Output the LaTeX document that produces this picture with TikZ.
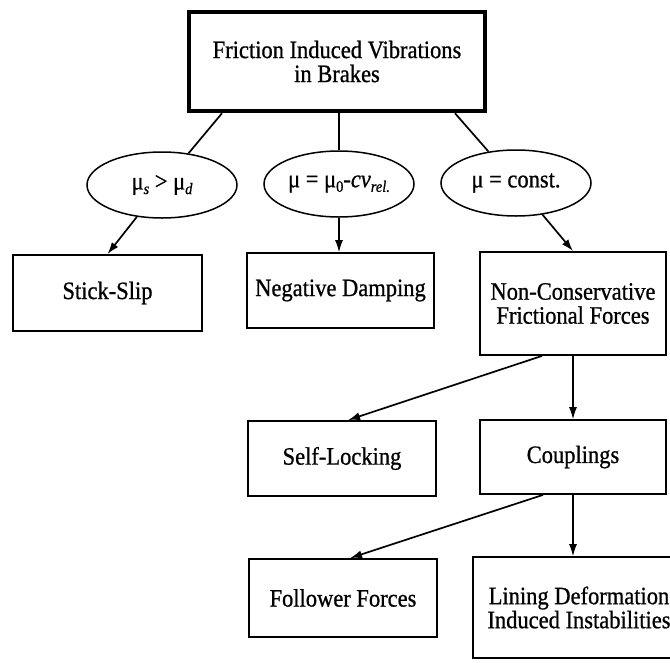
\documentclass[tikz,border=0pt]{standalone}
\usepackage{fontspec}
\setmainfont{Liberation Serif}[FakeStretch=0.9, FakeBold=0.8]
\usetikzlibrary{shapes.geometric,arrows.meta}
\newcommand\lsub[1]{\raisebox{-0.4ex}{\fontsize{16}{16}\selectfont #1}}
\tikzset{
  every node/.style={font=\fontsize{25}{24}\selectfont, align=center, inner sep=0pt},
  boxnode/.style={draw, line width=1.8pt, rectangle},
  topbox/.style={draw, line width=4.5pt, rectangle},
  ellnode/.style={draw, line width=1.5pt, ellipse, minimum width=150pt, minimum height=66pt},
  link/.style={line width=1.7pt},
  thinlink/.style={line width=1.1pt},
  arr/.style={line width=1.7pt, -{Latex[length=12pt,width=8pt]}},
  thinarr/.style={line width=1.1pt, -{Latex[length=12pt,width=8pt]}}
}
\begin{document}
\begin{tikzpicture}[x=1pt,y=-1pt]
\clip (0,0) rectangle (670,662);
\fill[white] (0,0) rectangle (670,662);

\node[topbox, minimum width=296pt, minimum height=99pt] (top) at (337,61.5) {Friction Induced Vibrations\\in Brakes};

\node[ellnode] (e1) at (162,185) {μ\lsub{\textit{s}} > μ\lsub{\textit{d}}};
\node[ellnode] (e2) at (339,184) {μ = μ\lsub{0}-\textit{cv}\lsub{\textit{rel.}}};
\node[ellnode] (e3) at (516,183) {μ = const.};

\node[boxnode, minimum width=189pt, minimum height=76pt] (b1) at (107.5,293) {Stick-Slip};
\node[boxnode, minimum width=187pt, minimum height=75pt] (b2) at (340.5,290.5) {Negative Damping};
\node[boxnode, minimum width=186pt, minimum height=103pt] (b3) at (573,303.5) {Non-Conservative\\Frictional Forces};

\node[boxnode, minimum width=188pt, minimum height=75pt] (sl) at (342,458.5) {Self-Locking};
\node[boxnode, minimum width=186pt, minimum height=74pt] (cp) at (573,457) {Couplings};

\node[boxnode, minimum width=188pt, minimum height=78pt] (ff) at (343,598) {Follower Forces};
\node[boxnode, minimum width=212pt, minimum height=101pt] (ln) at (579,607.5) {Lining Deformation\\Induced Instabilities};

\draw[link] ([xshift=-115pt]top.south) -- (e1);
\draw[thinlink] (top.south -| e2) -- (e2);
\draw[link] ([xshift=118pt]top.south) -- (e3);

\draw[arr] (e1) -- (b1.north);
\draw[thinarr] (e2) -- (e2 |- b2.north);
\draw[arr] (e3) -- (b3.north);

\draw[arr] ([xshift=-31pt]b3.south) -- ([xshift=6pt]sl.north);
\draw[thinarr] (b3.south) -- (cp.north);

\draw[arr] ([xshift=-30pt]cp.south) -- ([xshift=7pt]ff.north);
\draw[thinarr] (cp.south) -- (cp.south |- ln.north);
\end{tikzpicture}
\end{document}
